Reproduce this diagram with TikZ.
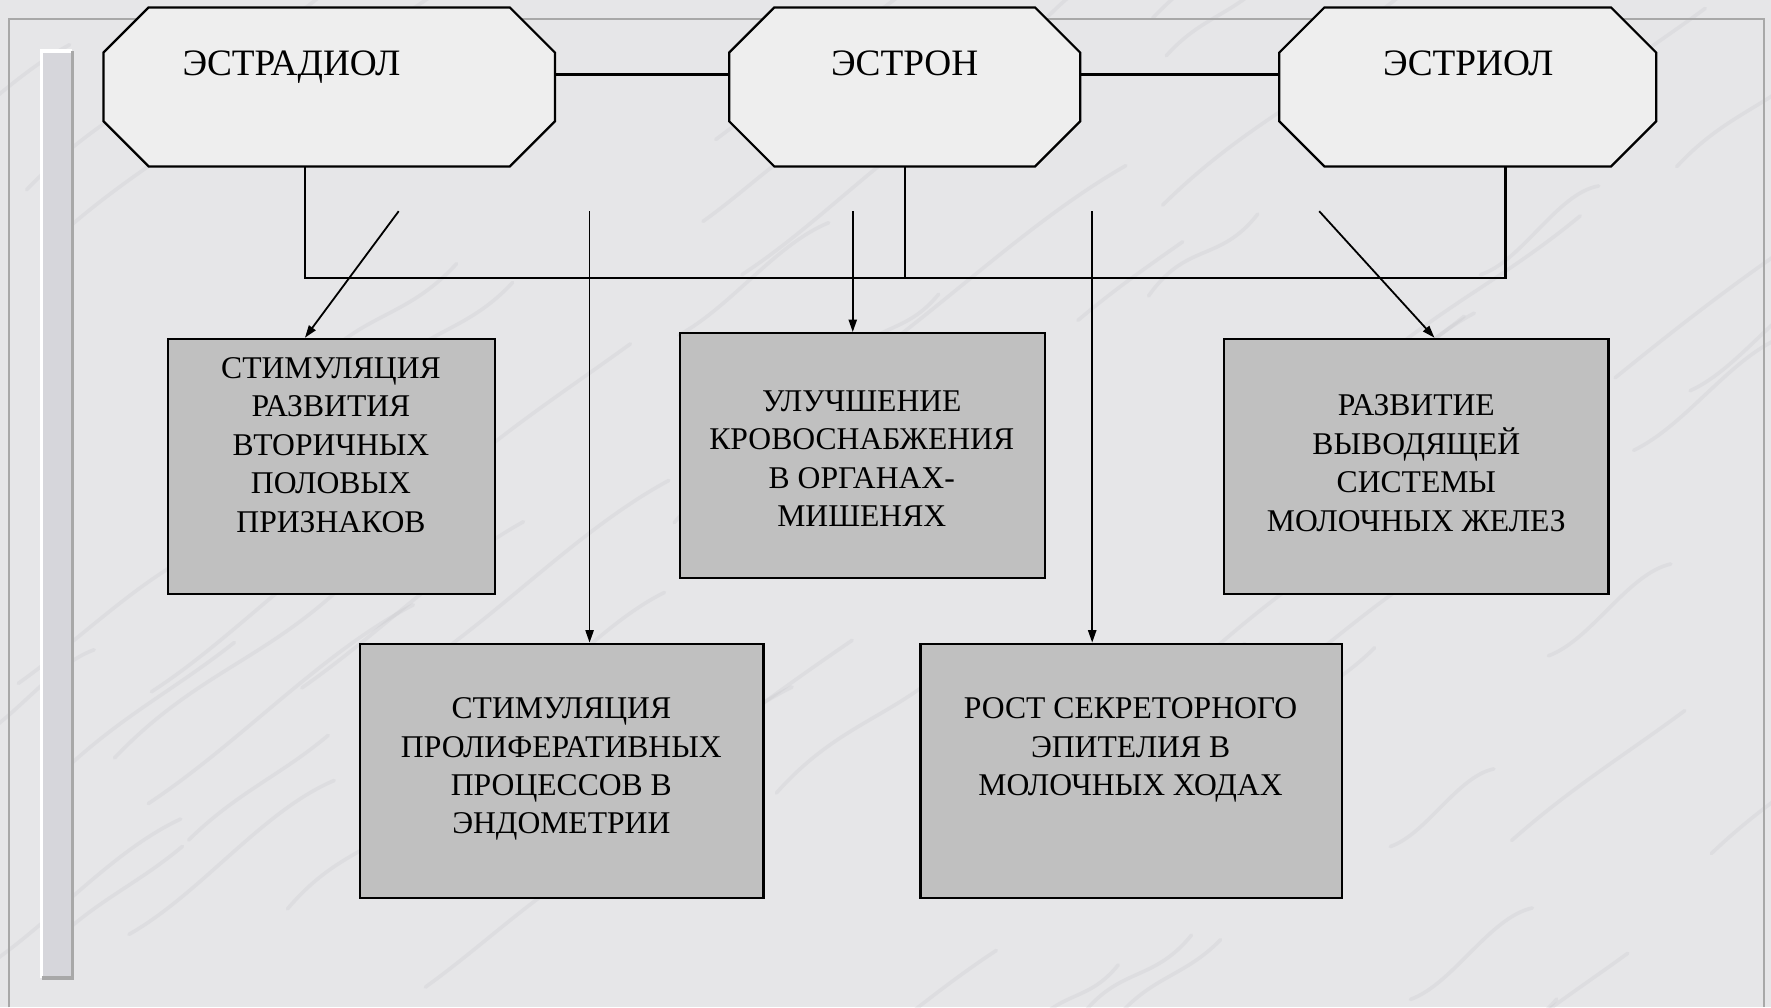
\documentclass[tikz,border=0pt]{standalone}
\usepackage{fontspec}
\setmainfont{Liberation Serif}
\usetikzlibrary{arrows.meta,calc}
\definecolor{marble}{RGB}{230,230,232}
\definecolor{vein}{RGB}{190,190,196}
\definecolor{barfill}{RGB}{214,214,219}
\definecolor{boxgray}{RGB}{192,192,192}
\definecolor{octfill}{RGB}{238,238,238}
\definecolor{framegray}{RGB}{168,168,168}
\begin{document}
\begin{tikzpicture}[x=0.5pt,y=-0.5pt,
  link/.style={line width=1pt,black},
  arr/.style={line width=0.8pt,black,-{Triangle[length=5.5pt,width=3.6pt]}},
  box/.style={draw=black,line width=1pt,fill=boxgray,inner sep=0pt},
  octo/.style={draw=black,line width=1pt,fill=octfill},
  octnode/.style={draw=none,inner sep=0pt,minimum height=70pt},
  boxtext/.style={align=center,inner sep=0pt,font=\fontsize{14pt}{17pt}\selectfont},
  titletext/.style={inner sep=0pt,anchor=base,font=\fontsize{16.5pt}{19pt}\selectfont}]
\useasboundingbox (0,0) rectangle (1568,892);
\fill[marble] (0,0) rectangle (1568,892);
% soft marble veins
\pgfmathsetseed{7}
\begin{scope}
\clip (0,0) rectangle (1568,892);
\foreach \i in {1,...,70}{
  \pgfmathsetmacro{\xa}{rnd*1700-80}
  \pgfmathsetmacro{\ya}{rnd*1000-50}
  \pgfmathsetmacro{\len}{80+rnd*160}
  \pgfmathsetmacro{\bend}{rnd*40-20}
  \draw[vein,line width=1.6pt,opacity=0.22,line cap=round]
    (\xa,\ya) .. controls ({\xa+\len*0.35},{\ya-\len*0.3+\bend}) and ({\xa+\len*0.65},{\ya-\len*0.5-\bend}) .. ({\xa+\len},{\ya-\len*0.75});
}
\end{scope}
% frame
\draw[framegray,line width=1pt] (8,892) -- (8,17) -- (1562,17) -- (1562,892);
% inner bar
\fill[barfill] (36,45) rectangle (64,866);
\draw[white,line width=1.5pt] (37,866) -- (37,45) -- (64,45);
\draw[framegray,line width=1.5pt] (37,866) -- (64,866) -- (64,45);

% octagon nodes
\node[octnode,minimum width=199.5pt] (o1) at (291.5,77) {};
\node[octnode,minimum width=155pt] (o2) at (801,77) {};
\node[octnode,minimum width=166.5pt] (o3) at (1299.5,77) {};
\foreach \o in {o1,o2,o3}{
  \draw[octo] ($(\o.north west)+(40,0)$) -- ($(\o.north east)+(-40,0)$) -- ($(\o.north east)+(0,40)$) -- ($(\o.south east)+(0,-40)$) -- ($(\o.south east)+(-40,0)$) -- ($(\o.south west)+(40,0)$) -- ($(\o.south west)+(0,-40)$) -- ($(\o.north west)+(0,40)$) -- cycle;
}
\node[titletext] (t1) at (258,67) {ЭСТРАДИОЛ};
\node[titletext] (t2) at (801,67) {ЭСТРОН};
\node[titletext] (t3) at (1300,67) {ЭСТРИОЛ};

% links between octagons
\draw[link] ($(o1.east)+(0,-11)$) -- ($(o2.west)+(0,-11)$);
\draw[link] ($(o2.east)+(0,-11)$) -- ($(o3.west)+(0,-11)$);

% bus
\coordinate (bl) at (270,246);
\coordinate (br) at (1333,246);
\draw[link] (o1.south -| bl) -- (bl) -- (br) -- (o3.south -| br);
\draw[link] (o2.south) -- (o2.south |- bl);

% boxes
\node[box,minimum width=144.5pt,minimum height=113pt] (b1) at (293.5,413) {};
\node[box,minimum width=161.5pt,minimum height=108.5pt] (b2) at (763.5,403.5) {};
\node[box,minimum width=170pt,minimum height=113pt] (b3) at (1254,413) {};
\node[box,minimum width=178.5pt,minimum height=112.5pt] (b4) at (497.5,682.5) {};
\node[box,minimum width=186.5pt,minimum height=112.5pt] (b5) at (1001.5,682.5) {};

\node[boxtext] (x1) at (293,394) {СТИМУЛЯЦИЯ\\РАЗВИТИЯ\\ВТОРИЧНЫХ\\ПОЛОВЫХ\\ПРИЗНАКОВ};
\node[boxtext] (x2) at (763,406) {УЛУЧШЕНИЕ\\КРОВОСНАБЖЕНИЯ\\В ОРГАНАХ-\\МИШЕНЯХ};
\node[boxtext] (x3) at (1254,410) {РАЗВИТИЕ\\ВЫВОДЯЩЕЙ\\СИСТЕМЫ\\МОЛОЧНЫХ ЖЕЛЕЗ};
\node[boxtext] (x4) at (497,681) {СТИМУЛЯЦИЯ\\ПРОЛИФЕРАТИВНЫХ\\ПРОЦЕССОВ В\\ЭНДОМЕТРИИ};
\node[boxtext] (x5) at (1001,664) {РОСТ СЕКРЕТОРНОГО\\ЭПИТЕЛИЯ В\\МОЛОЧНЫХ ХОДАХ};

% arrows
\coordinate (s1) at (353,187);
\coordinate (s2) at (522,187);
\coordinate (s3) at (755,187);
\coordinate (s4) at (967,187);
\coordinate (s5) at (1168,187);
\coordinate (e1) at (270,0);
\coordinate (e5) at (1270,0);
\draw[arr] (s1) -- (b1.north -| e1);
\draw[arr] (s2) -- (b4.north -| s2);
\draw[arr] (s3) -- (b2.north -| s3);
\draw[arr] (s4) -- (b5.north -| s4);
\draw[arr] (s5) -- (b3.north -| e5);
\end{tikzpicture}
\end{document}
